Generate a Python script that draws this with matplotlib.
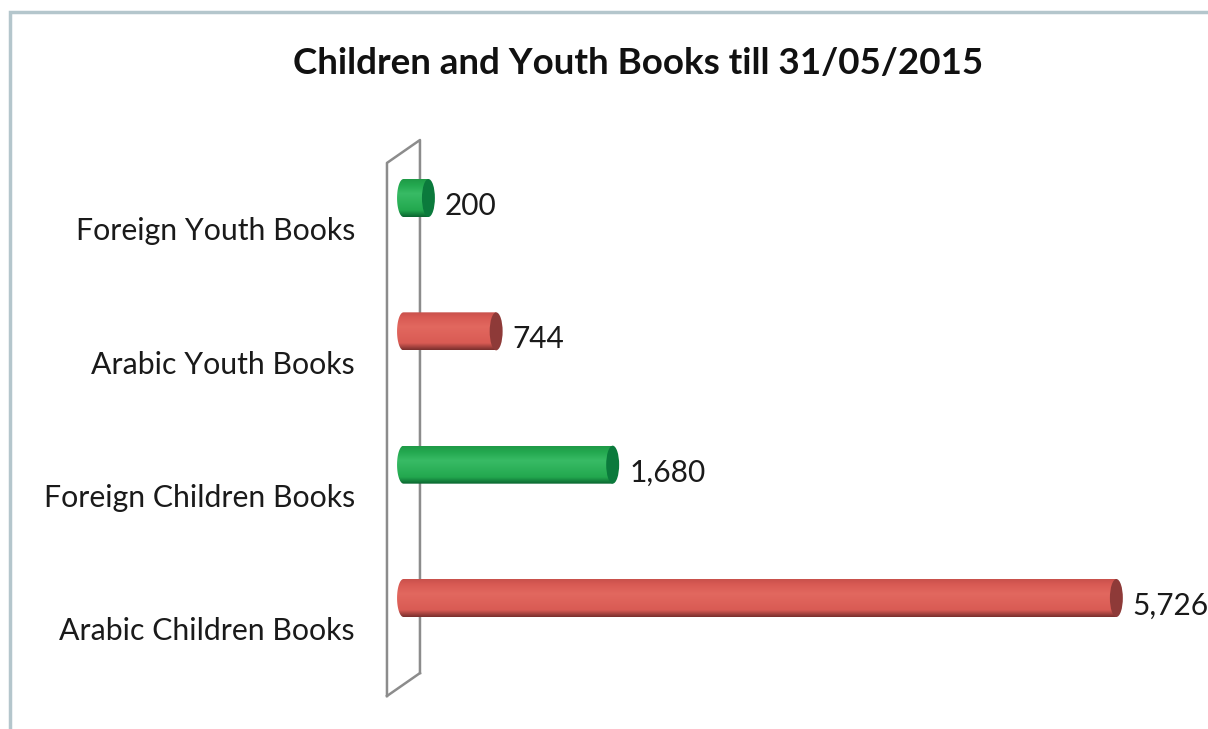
import numpy as np
import matplotlib
matplotlib.use('Agg')
import matplotlib.pyplot as plt
from matplotlib.path import Path
from matplotlib.patches import Ellipse, PathPatch, Rectangle
from matplotlib.colors import LinearSegmentedColormap

# data
categories = ['Arabic Children Books', 'Foreign Children Books',
              'Arabic Youth Books', 'Foreign Youth Books']
values = [5726, 1680, 744, 200]
value_labels = ['5,726', '1,680', '744', '200']
series_color = ['red', 'green', 'red', 'green']
title = 'Children and Youth Books till 31/05/2015'

plt.rcParams['font.family'] = ['Lato', 'DejaVu Sans']

# cylinder shades: top, highlight, mid, bottom, cap
shades = {
    'red':   ['#c9514c', '#e2685f', '#d95b54', '#7a2f2e', '#8e3a38'],
    'green': ['#1f9a47', '#38bb65', '#23a84f', '#0a6530', '#0b7a3c'],
}

fig = plt.figure(figsize=(12.08, 7.29), dpi=100)

# outer chart frame
fig.patches.append(Rectangle((10/1208, -0.02), 1.2, 1 - 12/729 + 0.02,
                             transform=fig.transFigure, fill=False,
                             edgecolor='#b4c6cc', linewidth=2.5))

ax = fig.add_axes([380/1208, 1 - 710/729, 1 - 380/1208, (710 - 130)/729])
ax.set_axis_off()

px = 0.1245          # pixels per book
bh = 0.285           # bar thickness (category units)
cap_w = 104          # end cap width (book units)

# back wall drawn as a thin slanted panel
wall_front, wall_back = -133, 132
ax.plot([wall_front, wall_front, wall_back, wall_back],
        [-0.735, 3.263, 3.435, -0.563], color='#8c8c8c', lw=1.8, zorder=1)
ax.plot([wall_front, wall_back], [-0.735, -0.563], color='#8c8c8c', lw=1.8, zorder=1)

for i, (v, c) in enumerate(zip(values, series_color)):
    top, hi, mid, bot, cap = shades[c]
    cmap = LinearSegmentedColormap.from_list(
        c + str(i), [(0, bot), (0.18, mid), (0.62, hi), (0.85, mid), (1, top)])
    y0, y1 = i - bh/2, i + bh/2
    # body outline: rounded left end + straight run to value
    t = np.linspace(np.pi/2, 3*np.pi/2, 40)
    left_x = cap_w/2 * np.cos(t)
    left_y = i + bh/2 * np.sin(t)
    xs = np.concatenate([[v], left_x, [v, v]])
    ys = np.concatenate([[y1], left_y, [y0, y1]])
    body = Path(np.column_stack([xs, ys]))
    patch = PathPatch(body, facecolor='none', edgecolor='none')
    ax.add_patch(patch)
    grad = np.linspace(0, 1, 100).reshape(-1, 1)
    im = ax.imshow(grad, cmap=cmap, origin='lower', aspect='auto',
                   extent=[-cap_w/2, v, y0, y1], zorder=3, interpolation='bilinear')
    im.set_clip_path(patch)
    ax.add_patch(Ellipse((v, i), cap_w, bh, facecolor=cap, edgecolor='none', zorder=4))
    ax.text(v + cap_w/2 + 10/px, i - 0.06, value_labels[i], fontsize=21.5,
            ha='left', va='center', color='#1a1a1a')
    ax.text(-390, i - 0.25, categories[i], fontsize=21.8, ha='right', va='center',
            color='#1a1a1a', clip_on=False)

ax.set_xlim(-189, 6462)
ax.set_ylim(-0.84, 3.51)

fig.text(638/1208, 1 - 63/729, title, fontsize=26.5, fontweight='bold',
         ha='center', va='center', color='#111111')

fig.savefig('out.png', dpi=100)
